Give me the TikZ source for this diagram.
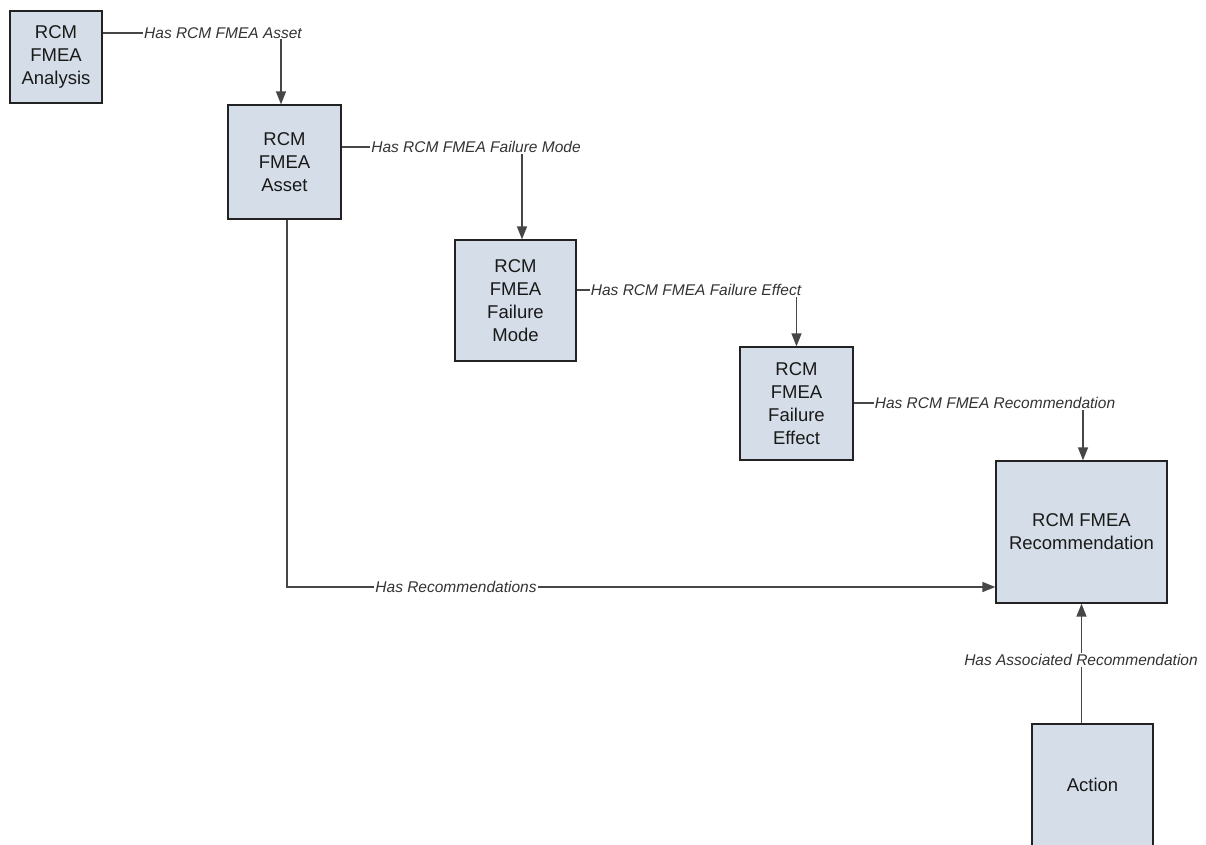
\documentclass[tikz,border=0pt]{standalone}
\usepackage{fontspec}
\setmainfont{Liberation Sans}
\usetikzlibrary{arrows.meta}
\definecolor{boxfill}{RGB}{213,222,232}
\definecolor{boxline}{RGB}{34,34,34}
\definecolor{conncol}{RGB}{70,70,70}
\definecolor{lbltext}{RGB}{51,51,51}
\tikzset{
  entity/.style={draw=boxline, fill=boxfill, line width=1.3pt, inner sep=0pt,
    align=center, text=black!90, font=\fontsize{18.5}{23}\selectfont},
  conn/.style={draw=conncol, line width=1.4pt, -{Triangle[length=13pt,width=10pt]}},
  lbl/.style={fill=white, inner sep=1pt, text=lbltext, font=\fontsize{15.5}{18}\selectfont\itshape}
}
\begin{document}
\begin{tikzpicture}[x=1pt,y=-1pt]
\useasboundingbox (0,0) rectangle (1206,844);
\node[entity, minimum width=92pt, minimum height=92pt] (an) at (56,57) {RCM\\FMEA\\Analysis};
\node[entity, minimum width=113pt, minimum height=114pt] (as) at (284.5,162) {RCM\\FMEA\\Asset};
\node[entity, minimum width=121pt, minimum height=121pt] (fm) at (515.5,300.5) {RCM\\FMEA\\Failure\\Mode};
\node[entity, minimum width=113pt, minimum height=113pt] (fe) at (796.5,403.5) {RCM\\FMEA\\Failure\\Effect};
\node[entity, minimum width=171pt, minimum height=142pt] (rec) at (1081.5,532) {RCM FMEA\\Recommendation};
\node[entity, minimum width=121pt, minimum height=122pt] (act) at (1092.5,785) {Action};

\draw[conn] ([yshift=24pt]an.east) -| ([xshift=-3.5pt]as.north);
\draw[conn] ([yshift=15pt]as.east) -| ([xshift=6.5pt]fm.north);
\draw[conn] ([yshift=10.5pt]fm.east) -| (fe.north);
\draw[conn] ([yshift=0.5pt]fe.east) -| ([xshift=1.5pt]rec.north);
\draw[conn] ([xshift=2.5pt]as.south) |- ([yshift=-55pt]rec.west);
\draw[conn] ([xshift=-11pt]act.north) -- (rec.south);

\node[lbl] (l1) at (223,33) {Has RCM FMEA Asset};
\node[lbl] (l2) at (476,147) {Has RCM FMEA Failure Mode};
\node[lbl] (l3) at (696,290) {Has RCM FMEA Failure Effect};
\node[lbl] (l4) at (995,403) {Has RCM FMEA Recommendation};
\node[lbl] (l5) at (456,587) {Has Recommendations};
\node[lbl] (l6) at (1081,660) {Has Associated Recommendation};
\end{tikzpicture}
\end{document}
